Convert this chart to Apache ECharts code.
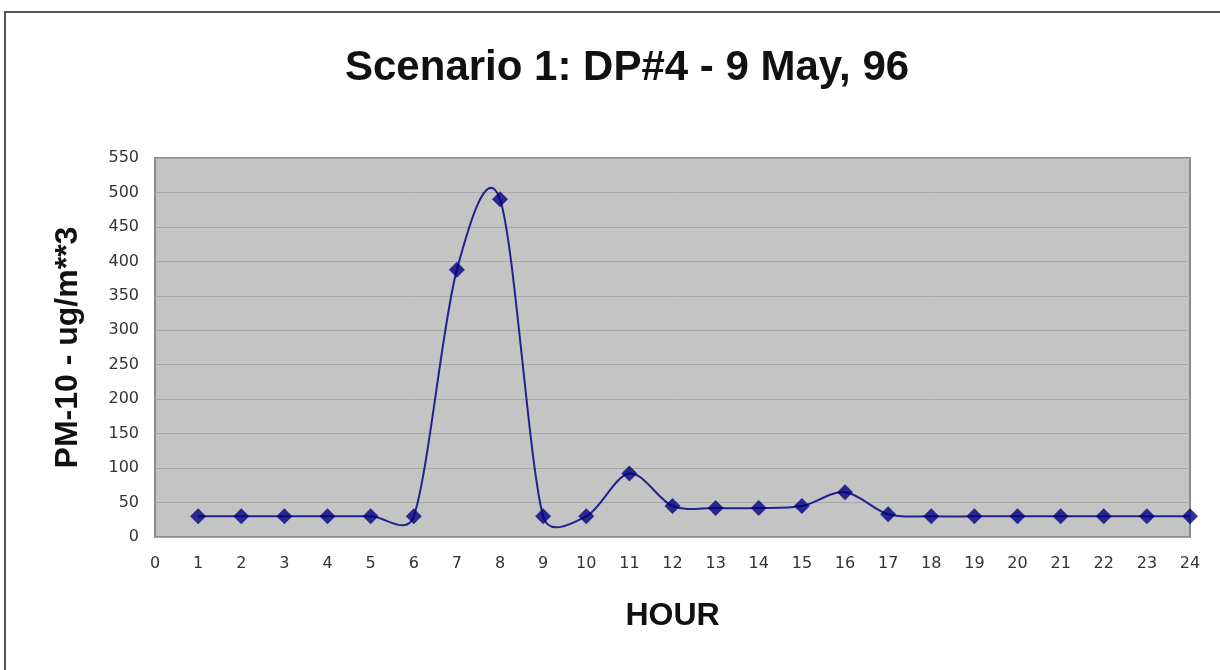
<!DOCTYPE html>
<html>
<head>
<meta charset="utf-8">
<script src="https://cdn.jsdelivr.net/npm/echarts@6/dist/echarts.min.js"></script>
<style>
html,body{margin:0;padding:0;background:#fff;}
#c{width:1220px;height:670px;}
</style>
</head>
<body>
<div id="c"></div>
<script>
const titleText = "Scenario 1: DP#4 - 9 May, 96";
const xName = "HOUR";
const yName = "PM-10 - ug/m**3";
const hours = [1,2,3,4,5,6,7,8,9,10,11,12,13,14,15,16,17,18,19,20,21,22,23,24];
const pm10 = [30,30,30,30,30,30,388,490,30,30,92,45,42,42,45,65,33,30,30,30,30,30,30,30];

const chart = echarts.init(document.getElementById('c'), null, {renderer:'canvas'});
const seriesData = hours.map((h,i)=>[h, pm10[i]]);
const n = hours.length;

// Excel-style smoothed segment between point i and i+1, using the chart's own coordinate system
function renderSegment(params, api){
  const i = params.dataIndex;
  if (i >= n - 1) return null;
  const P = j => { const k = Math.max(0, Math.min(n - 1, j)); return api.coord([hours[k], pm10[k]]); };
  const p0 = P(i - 1), p1 = P(i), p2 = P(i + 1), p3 = P(i + 2);
  const dist = (a,b) => Math.hypot(a[0]-b[0], a[1]-b[1]);
  const d02 = dist(p0,p2), d12 = dist(p1,p2), d13 = dist(p1,p3);
  const f1 = d02 > 0 ? Math.min(1/6, d12/(2*d02)) : 0;
  const f2 = d13 > 0 ? Math.min(1/6, d12/(2*d13)) : 0;
  return {
    type:'bezierCurve',
    shape:{
      x1:p1[0], y1:p1[1], x2:p2[0], y2:p2[1],
      cpx1:p1[0] + (p2[0]-p0[0])*f1, cpy1:p1[1] + (p2[1]-p0[1])*f1,
      cpx2:p2[0] - (p3[0]-p1[0])*f2, cpy2:p2[1] - (p3[1]-p1[1])*f2
    },
    style:{stroke:'#22228f', lineWidth:2, fill:'none'}
  };
}

chart.setOption({
  animation:false,
  backgroundColor:'#ffffff',
  graphic:[
    {type:'rect', shape:{x:5,y:12,width:1230,height:680}, style:{fill:'none', stroke:'#555', lineWidth:2}, z:-10}
  ],
  title:{
    text:titleText, left:340, top:42,
    textStyle:{fontFamily:'Liberation Sans, Arial, sans-serif', fontWeight:'bold', fontSize:42, color:'#111'}
  },
  grid:{left:155, right:30, top:158, bottom:133, show:true, backgroundColor:'#c4c4c4', borderColor:'#8a8a8a', borderWidth:2},
  xAxis:{
    type:'value', min:0, max:24, interval:1,
    name:xName, nameLocation:'middle', nameGap:63,
    nameTextStyle:{fontFamily:'Liberation Sans, Arial, sans-serif', fontWeight:'bold', fontSize:32, color:'#111'},
    axisLine:{show:false}, axisTick:{show:false}, splitLine:{show:false},
    axisLabel:{fontFamily:'DejaVu Sans, sans-serif', fontSize:16, color:'#333', margin:19}
  },
  yAxis:{
    type:'value', min:0, max:550, interval:50,
    name:yName, nameLocation:'middle', nameGap:71, nameRotate:90,
    nameTextStyle:{fontFamily:'Liberation Sans, Arial, sans-serif', fontWeight:'bold', fontSize:32, color:'#111'},
    axisLine:{show:false}, axisTick:{show:false},
    splitLine:{show:true, lineStyle:{color:'#a8a8a8', width:1}},
    axisLabel:{fontFamily:'DejaVu Sans, sans-serif', fontSize:16, color:'#333', margin:16}
  },
  series:[
    {type:'custom', data:seriesData, renderItem:renderSegment, z:2},
    {type:'scatter', data:seriesData, symbol:'diamond', symbolSize:16, itemStyle:{color:'#000080'}, z:3}
  ]
});
</script>
</body>
</html>
